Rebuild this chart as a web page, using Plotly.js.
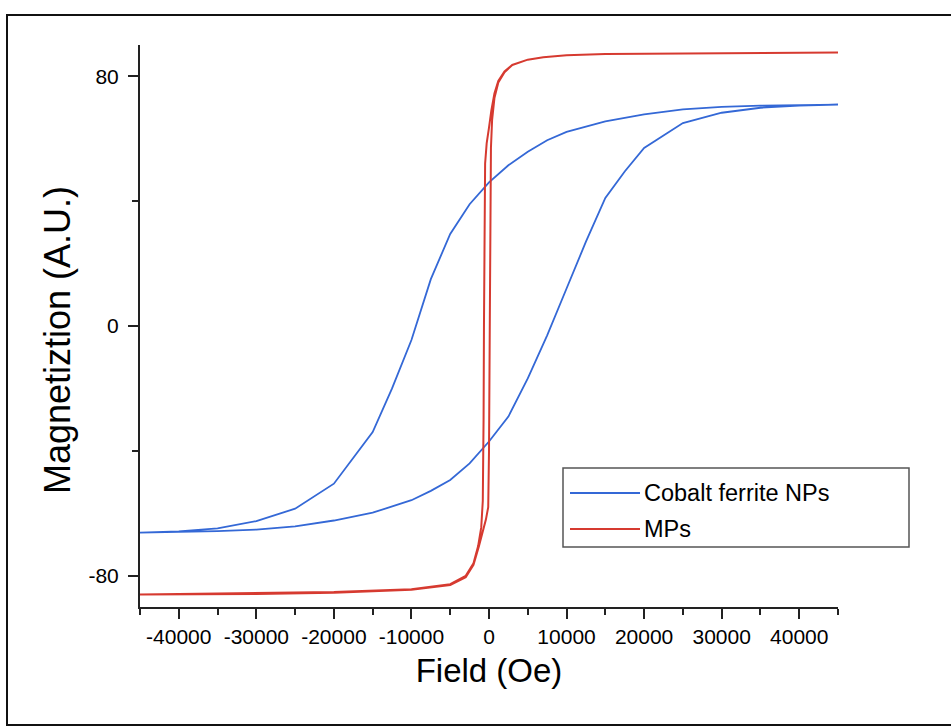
<!DOCTYPE html>
<html>
<head>
<meta charset="utf-8">
<script src="https://cdn.plot.ly/plotly-3.0.1.min.js"></script>
<style>html,body{margin:0;padding:0;background:#fff;}#chart{width:951px;height:727px;}</style>
</head>
<body>
<div id="chart"></div>
<script>
// ---- data ----
const seriesNames = ["Cobalt ferrite NPs", "MPs"];
const seriesColors = ["rgb(52,104,214)", "rgb(214,58,48)"];

// Cobalt ferrite NPs: descending branch (+H -> -H)
const cofeDownX = [45000, 40000, 35000, 30000, 25000, 20000, 15000, 10000, 7500, 5000, 2500, 0, -2500, -5000, -7500, -10000, -12500, -15000, -20000, -25000, -30000, -35000, -40000, -45000];
const cofeDownY = [70.9, 70.8, 70.6, 70.2, 69.4, 67.8, 65.5, 62.2, 59.5, 55.8, 51.5, 46.0, 39.0, 29.5, 15.0, -4.5, -20.0, -34.0, -50.5, -58.5, -62.5, -64.8, -65.8, -66.2];
// Cobalt ferrite NPs: ascending branch (-H -> +H)
const cofeUpX = [-45000, -40000, -35000, -30000, -25000, -20000, -15000, -10000, -7500, -5000, -2500, 0, 2500, 5000, 7500, 10000, 12500, 15000, 17500, 20000, 25000, 30000, 35000, 40000, 45000];
const cofeUpY = [-66.2, -66.0, -65.7, -65.2, -64.2, -62.3, -59.8, -55.8, -52.8, -49.3, -44.0, -37.0, -29.0, -16.8, -3.0, 12.0, 27.0, 41.0, 49.5, 57.0, 65.0, 68.3, 69.9, 70.6, 70.9];

// MPs: descending branch
const mpDownX = [45000, 35000, 25000, 15000, 10000, 7000, 5000, 3000, 2000, 1200, 700, 300, 0, -300, -500, -600, -650, -700, -800, -1000, -1400, -2000, -3000, -5000, -10000, -20000, -30000, -45000];
const mpDownY = [87.6, 87.5, 87.3, 87.1, 86.7, 86.1, 85.3, 83.6, 81.5, 78.5, 74.5, 69.0, 63.5, 58.5, 52.0, 25.0, 0.0, -30.0, -56.0, -64.5, -70.5, -76.0, -80.0, -82.7, -84.3, -85.2, -85.6, -86.0];
// MPs: ascending branch
const mpUpX = [-45000, -30000, -20000, -10000, -5000, -3000, -2000, -1300, -800, -400, -100, 0, 100, 200, 250, 400, 700, 1200, 2000, 3000, 5000, 7000, 10000, 15000, 25000, 35000, 45000];
const mpUpY = [-86.0, -85.8, -85.4, -84.5, -83.0, -80.5, -76.5, -70.5, -66.0, -62.0, -58.0, -40.0, 0.0, 40.0, 57.0, 66.0, 73.0, 78.0, 81.3, 83.6, 85.3, 86.1, 86.7, 87.1, 87.3, 87.5, 87.6];

const xTickVals = [-40000, -30000, -20000, -10000, 0, 10000, 20000, 30000, 40000];
const xTickText = ["-40000", "-30000", "-20000", "-10000", "0", "10000", "20000", "30000", "40000"];
const yTickVals = [-80, 0, 80];
const yTickText = ["-80", "0", "80"];
const xTitle = "Field (Oe)";
const yTitle = "Magnetiztion (A.U.)";

// ---- chart ----
const FONT = "Liberation Sans, Arial, Helvetica, sans-serif";
const traces = [
  {x: cofeDownX.concat(cofeUpX), y: cofeDownY.concat(cofeUpY), name: seriesNames[0],
   mode: "lines", line: {color: seriesColors[0], width: 1.8}},
  {x: mpDownX.concat(mpUpX), y: mpDownY.concat(mpUpY), name: seriesNames[1],
   mode: "lines", line: {color: seriesColors[1], width: 2}}
];

const W = 951, H = 727;
const M = {l: 140, r: 113, t: 45, b: 120};
const pw = W - M.l - M.r, ph = H - M.t - M.b;
const px = v => (v - M.l) / pw;          // pixel -> paper x
const py = v => (H - M.b - v) / ph;      // pixel -> paper y

const shapes = [
  // outer frame
  {type: "rect", xref: "paper", yref: "paper", x0: px(7), x1: px(975), y0: py(725), y1: py(15),
   line: {color: "#111", width: 2}, fillcolor: "rgba(0,0,0,0)", layer: "below"},
  // legend box
  {type: "rect", xref: "paper", yref: "paper", x0: px(563), x1: px(909), y0: py(547), y1: py(468),
   line: {color: "#555", width: 1.5}, fillcolor: "rgba(255,255,255,0)"},
  {type: "line", xref: "paper", yref: "paper", x0: px(570), x1: px(640), y0: py(493), y1: py(493),
   line: {color: seriesColors[0], width: 1.8}},
  {type: "line", xref: "paper", yref: "paper", x0: px(570), x1: px(640), y0: py(529), y1: py(529),
   line: {color: seriesColors[1], width: 2}}
];
const annotations = [
  {xref: "paper", yref: "paper", x: px(642), y: py(493), xanchor: "left", yanchor: "middle",
   text: seriesNames[0], showarrow: false, font: {family: FONT, size: 23.5, color: "#000"}},
  {xref: "paper", yref: "paper", x: px(642), y: py(529), xanchor: "left", yanchor: "middle",
   text: seriesNames[1], showarrow: false, font: {family: FONT, size: 23.5, color: "#000"}},
  // y-axis title, placed where the reference draws it
  {xref: "paper", yref: "paper", x: px(57), y: py(340), xanchor: "center", yanchor: "middle",
   text: yTitle, textangle: -90, showarrow: false, font: {family: FONT, size: 36, color: "#000"}}
];

const layout = {
  width: W, height: H,
  margin: M,
  paper_bgcolor: "#fff", plot_bgcolor: "#fff",
  showlegend: false,
  font: {family: FONT, color: "#000"},
  xaxis: {
    range: [-45000, 45000], showgrid: false, zeroline: false,
    showline: true, linecolor: "#222", linewidth: 2,
    ticks: "outside", ticklen: 10, tickwidth: 2, tickcolor: "#222",
    tickvals: xTickVals, ticktext: xTickText,
    tickfont: {family: FONT, size: 21, color: "#000"},
    minor: {ticks: "outside", ticklen: 6, tickwidth: 2, tickcolor: "#222", dtick: 5000, tick0: 0, showgrid: false},
    title: {text: xTitle, font: {family: FONT, size: 33, color: "#000"}, standoff: 12},
    automargin: false
  },
  yaxis: {
    range: [-90, 90], showgrid: false, zeroline: false,
    showline: true, linecolor: "#222", linewidth: 2,
    ticks: "outside", ticklen: 10, tickwidth: 2, tickcolor: "#222",
    tickvals: yTickVals, ticktext: yTickText,
    tickfont: {family: FONT, size: 21, color: "#000"},
    ticklabelstandoff: 5,
    minor: {ticks: "outside", ticklen: 6, tickwidth: 2, tickcolor: "#222", dtick: 40, tick0: 0, showgrid: false},
    title: {text: ""},
    automargin: false
  },
  shapes: shapes,
  annotations: annotations
};

Plotly.newPlot("chart", traces, layout, {displayModeBar: false, staticPlot: true});
</script>
</body>
</html>
